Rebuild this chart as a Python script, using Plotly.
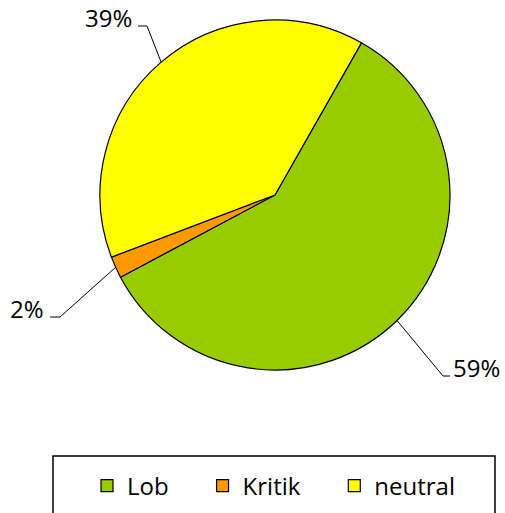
import math
import plotly.graph_objects as go

categories = ["Lob", "Kritik", "neutral"]
values = [59, 2, 39]
colors = ["#99CC00", "#FF9900", "#FFFF00"]
label_texts = ["59%", "2%", "39%"]

W, H = 505, 513
cx, cy, R = 275, 195, 175
rotation = 29.6
FONT = "Open Sans"

# label elbow points (px), horizontal tail end (px), and text side
elbows = [(443, 376), (60, 317), (147, 26)]
tails = [(450, 376), (50, 317), (138, 26)]
sides = ["left", "right", "right"]

def px(x):
    return x / W

def py(y):
    return 1 - y / H

# extra spacing after each legend entry (non-breaking spaces)
legend_labels = [c + "\u00a0" * 4 + "\u2009" for c in categories]

fig = go.Figure()
fig.add_trace(go.Pie(
    labels=legend_labels, values=values, sort=False, direction="clockwise",
    rotation=rotation, marker=dict(colors=colors, line=dict(color="black", width=1.2)),
    textinfo="none", hoverinfo="percent", customdata=categories,
    domain=dict(x=[px(cx - R), px(cx + R)], y=[py(cy + R), py(cy - R)]),
))

total = sum(values)
shapes = []
annotations = []
start = rotation
for i, v in enumerate(values):
    span = 360 * v / total
    mid = math.radians(start + span / 2)
    start += span
    ex, ey = cx + R * math.sin(mid), cy - R * math.cos(mid)
    (bx, by), (tx, ty) = elbows[i], tails[i]
    shapes.append(dict(type="path", xref="paper", yref="paper",
                       path=f"M {px(ex)} {py(ey)} L {px(bx)} {py(by)} L {px(tx)} {py(ty)}",
                       line=dict(color="black", width=1)))
    if sides[i] == "left":
        x, xa = px(tx + 2), "left"
    else:
        x, xa = px(tx - 5), "right"
    annotations.append(dict(x=x, y=py(ty - 8.5), xref="paper", yref="paper",
                            text=label_texts[i], showarrow=False, xanchor=xa, yanchor="middle",
                            borderpad=0,
                            font=dict(size=24, color="black", family=FONT)))

shapes.append(dict(type="rect", xref="paper", yref="paper",
                   x0=px(53), x1=px(495), y0=py(530), y1=py(456),
                   line=dict(color="black", width=1.5), fillcolor="rgba(0,0,0,0)"))

fig.update_layout(
    width=W, height=H, margin=dict(l=0, r=0, t=0, b=0),
    paper_bgcolor="white", plot_bgcolor="white",
    shapes=shapes, annotations=annotations,
    showlegend=True,
    legend=dict(orientation="h", x=px(87), xanchor="left", y=py(486), yanchor="middle",
                font=dict(size=24, color="black", family=FONT),
                bgcolor="rgba(0,0,0,0)", itemclick=False, itemdoubleclick=False),
)
fig.write_html("out.html", config={"displayModeBar": False},
               post_script="document.body.style.margin='0';")
